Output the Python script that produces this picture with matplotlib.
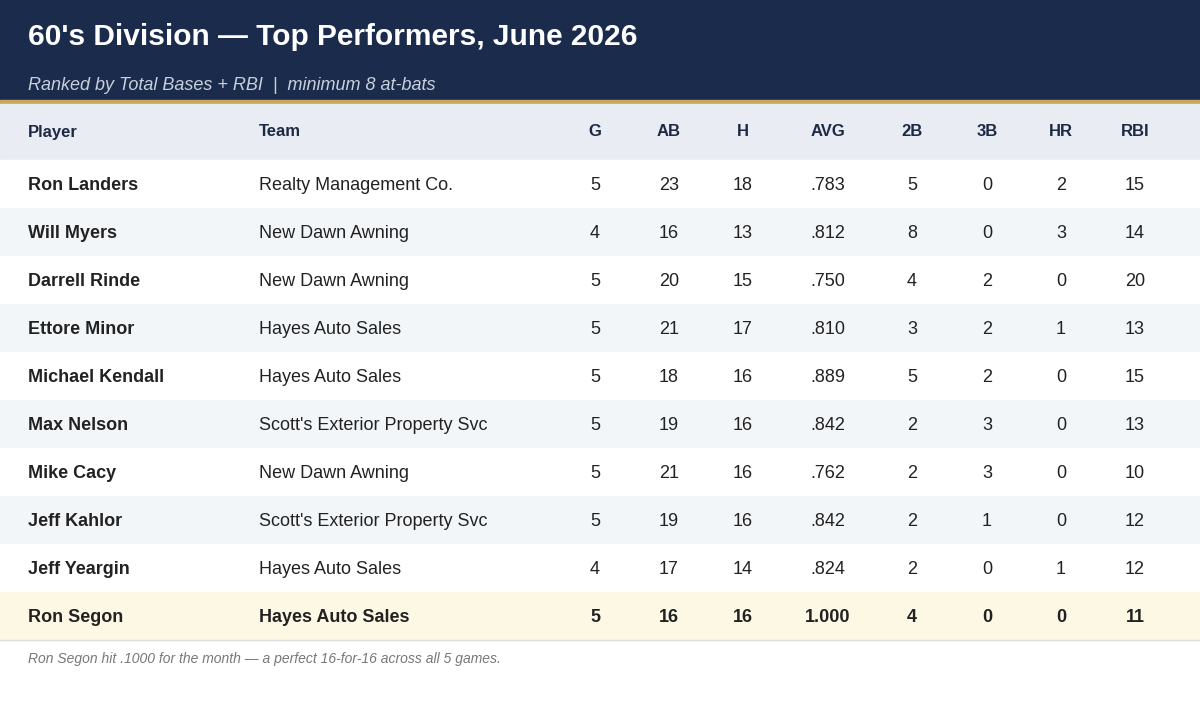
import matplotlib
matplotlib.use("Agg")
import matplotlib.pyplot as plt
from matplotlib.patches import Rectangle

plt.rcParams['font.family'] = ['Liberation Sans', 'DejaVu Sans']

title = "60's Division — Top Performers, June 2026"
subtitle = "Ranked by Total Bases + RBI  |  minimum 8 at-bats"
footnote = "Ron Segon hit .1000 for the month — a perfect 16-for-16 across all 5 games."
columns = ["Player", "Team", "G", "AB", "H", "AVG", "2B", "3B", "HR", "RBI"]
players = ["Ron Landers", "Will Myers", "Darrell Rinde", "Ettore Minor", "Michael Kendall",
           "Max Nelson", "Mike Cacy", "Jeff Kahlor", "Jeff Yeargin", "Ron Segon"]
teams = ["Realty Management Co.", "New Dawn Awning", "New Dawn Awning", "Hayes Auto Sales",
         "Hayes Auto Sales", "Scott's Exterior Property Svc", "New Dawn Awning",
         "Scott's Exterior Property Svc", "Hayes Auto Sales", "Hayes Auto Sales"]
G = [5, 4, 5, 5, 5, 5, 5, 5, 4, 5]
AB = [23, 16, 20, 21, 18, 19, 21, 19, 17, 16]
H = [18, 13, 15, 17, 16, 16, 16, 16, 14, 16]
AVG = [".783", ".812", ".750", ".810", ".889", ".842", ".762", ".842", ".824", "1.000"]
B2 = [5, 8, 4, 3, 5, 2, 2, 2, 2, 4]
B3 = [0, 0, 2, 2, 2, 3, 3, 1, 0, 0]
HR = [2, 3, 0, 1, 0, 0, 0, 0, 1, 0]
RBI = [15, 14, 20, 13, 15, 13, 10, 12, 12, 11]
highlight = 9

fig = plt.figure(figsize=(12, 7.08), dpi=100)
ax = fig.add_axes([0, 0, 1, 1])
ax.set_xlim(0, 1200); ax.set_ylim(708, 0); ax.axis('off')

navy = "#1b2b4b"
ax.add_patch(Rectangle((0, 0), 1200, 100, color=navy))
ax.add_patch(Rectangle((0, 100), 1200, 4, color="#c9a55a"))
ax.text(28, 37, title, color="white", fontsize=21.5, fontweight='bold', va='center')
ax.text(28, 86, subtitle, color="#c8d0de", fontsize=13, style='italic', va='center')

ax.add_patch(Rectangle((0, 104), 1200, 56, color="#e9edf3"))
xs = [28, 259, 595, 669, 743, 828, 912, 987, 1061, 1135]
for i, c in enumerate(columns):
    ax.text(xs[i], 132, c, fontsize=12, fontweight='bold', color="#1e2a44",
            va='center', ha='left' if i < 2 else 'center')

for r in range(len(players)):
    y0 = 160 + 48 * r
    col = "#fdf8e4" if r == highlight else ("#f3f6f9" if r % 2 else "white")
    ax.add_patch(Rectangle((0, y0), 1200, 48, color=col))
    vals = [players[r], teams[r], G[r], AB[r], H[r], AVG[r], B2[r], B3[r], HR[r], RBI[r]]
    for i, v in enumerate(vals):
        bold = (i == 0) or r == highlight
        ax.text(xs[i], y0 + 26, str(v), fontsize=13, color="#222222",
                fontweight='bold' if bold else 'normal', va='center',
                ha='left' if i < 2 else 'center')
ax.plot([0, 1200], [640, 640], color="#dddddd", lw=1)
ax.text(28, 659, footnote, fontsize=10, style='italic', color="#777777", va='center')

fig.savefig("out.png", dpi=100)
